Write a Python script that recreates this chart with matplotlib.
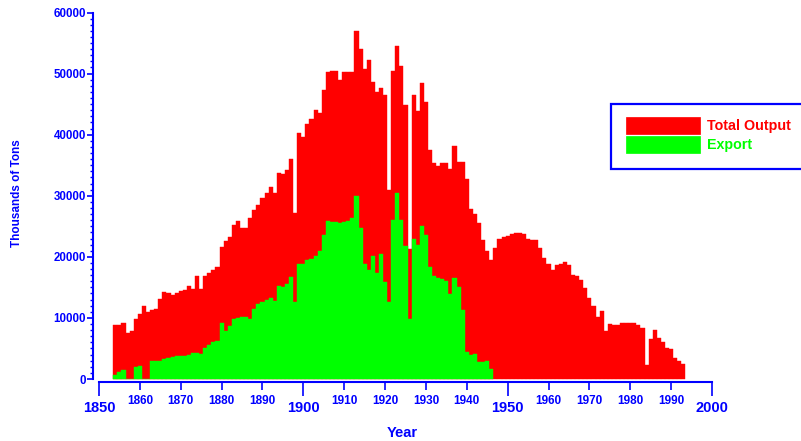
import numpy as np
import matplotlib
matplotlib.use("Agg")
import matplotlib.pyplot as plt
from matplotlib.patches import Rectangle
from matplotlib.ticker import MultipleLocator, FixedLocator, FixedFormatter

plt.rcParams["font.family"] = ["Liberation Sans", "DejaVu Sans"]
plt.rcParams["font.weight"] = "bold"

blue = "#0000ff"
red = "#ff0000"
green = "#00ff00"

# thousands of tons, one value per year
output_years = np.arange(1854, 1994)
total_output = [
    8800, 8800, 9200, 7600, 7900, 9900, 10700, 12000, 11000, 11300,
    11400, 13100, 14200, 14000, 13800, 14000, 14400, 14500, 15200, 14700,
    16800, 14700, 16800, 17400, 17800, 18300, 21600, 22600, 23200, 25200,
    25900, 24700, 24700, 26400, 27700, 28500, 29700, 30400, 31500, 30400,
    33700, 33500, 34200, 36000, 27200, 40200, 39700, 41700, 42500, 44000,
    43500, 47300, 50300, 50500, 50500, 49000, 50300, 50300, 50200, 56900,
    54000, 50700, 52200, 48700, 47000, 47700, 46500, 30900, 50500, 54500,
    51200, 44900, 21300, 46500, 43800, 48500, 45400, 37500, 35400, 34800,
    35400, 35300, 34300, 38100, 35600, 35600, 32700, 27800, 27000, 25500,
    22800, 20900, 19500, 21500, 22900, 23200, 23400, 23700, 23900, 23900,
    23800, 23000, 22800, 22700, 21400, 19800, 18900, 17800, 18700, 18900,
    19200, 18700, 17000, 16900, 16200, 14850, 13200, 11900, 10200, 11200,
    7800, 9000, 8900, 8900, 9100, 9200, 9200, 9100, 8900, 8300,
    2300, 6500, 8100, 6700, 6000, 5000, 4900, 3500, 3000, 2400,
]

export_years = np.arange(1854, 1947)
export = [
    700, 1100, 1400, 0, 0, 2000, 2100, 0, 0, 2900,
    2900, 2900, 3300, 3400, 3600, 3700, 3700, 3800, 4000, 4200,
    4300, 4100, 5000, 5500, 6000, 6300, 9100, 7900, 8600, 9800,
    10000, 10200, 10100, 9800, 11400, 12300, 12600, 12900, 13200, 12800,
    15300, 15000, 15600, 16700, 12600, 18900, 18900, 19500, 19700, 20100,
    21000, 23500, 25900, 25700, 25700, 25600, 25700, 25800, 26300, 30000,
    24800, 18900, 17800, 20200, 17300, 20500, 15800, 12600, 26000, 30400,
    26000, 21700, 9800, 23000, 21900, 25000, 23600, 18400, 16900, 16500,
    16400, 16000, 13900, 16600, 15100, 11300, 4500, 4000, 4100, 2800,
    2800, 2900, 1600,
]

series_names = ["Total Output", "Export"]
series_colors = [red, green]

major_years = [1850, 1900, 1950, 2000]
minor_years = [1860, 1870, 1880, 1890, 1910, 1920, 1930, 1940,
               1960, 1970, 1980, 1990]

W, H = 801, 441
fig = plt.figure(figsize=(W / 100, H / 100), dpi=100)
fig.patch.set_facecolor("white")
ax = fig.add_axes([93 / W, 59 / H, 619 / W, 369.5 / H])

ax.bar(output_years, total_output, width=1.0, color=red,
       edgecolor=red, linewidth=0.3)
ax.bar(export_years, export, width=1.0, color=green,
       edgecolor=green, linewidth=0.3)

ax.set_xlim(1848.53, 2000)
ax.set_ylim(-490, 60000)

for side in ["top", "right"]:
    ax.spines[side].set_visible(False)
ax.spines["left"].set_bounds(0, 60000)
ax.spines["bottom"].set_bounds(1850, 2000)
for side in ["left", "bottom"]:
    ax.spines[side].set_color(blue)
    ax.spines[side].set_linewidth(1.5)

ax.yaxis.set_major_locator(MultipleLocator(10000))
ax.yaxis.set_minor_locator(MultipleLocator(1000))
ax.tick_params(axis="y", which="major", length=4, width=1.2, color=blue,
               labelcolor=blue, labelsize=8.3, pad=1)
ax.tick_params(axis="y", which="minor", length=2.5, width=1, color=blue)

ax.xaxis.set_major_locator(FixedLocator(major_years))
ax.xaxis.set_major_formatter(FixedFormatter([str(y) for y in major_years]))
ax.xaxis.set_minor_locator(FixedLocator(minor_years))
ax.xaxis.set_minor_formatter(FixedFormatter([str(y) for y in minor_years]))
ax.tick_params(axis="x", which="major", length=10, width=1.2, color=blue,
               labelcolor=blue, labelsize=10.5, pad=4)
ax.tick_params(axis="x", which="minor", length=5.5, width=1.2, color=blue,
               labelcolor=blue, labelsize=8.5, pad=4)

ax.set_xlabel("Year", color=blue, fontsize=10.5, fontweight="bold")
ax.xaxis.set_label_coords(0.5, -0.118)
ax.set_ylabel("Thousands of Tons", color=blue, fontsize=8.5,
              fontweight="bold")
ax.yaxis.set_label_coords(-0.113, 0.51)

# legend box, running off the right edge like the original
fig.add_artist(Rectangle((611 / W, (H - 169) / H), 0.3, 65 / H,
                         transform=fig.transFigure, facecolor="white",
                         edgecolor=blue, linewidth=1.6, clip_on=False))
for i, (name, col) in enumerate(zip(series_names, series_colors)):
    top = 117 + i * 19
    fig.add_artist(Rectangle((626 / W, (H - top - 17) / H), 74 / W, 17 / H,
                             transform=fig.transFigure, facecolor=col,
                             edgecolor=col, linewidth=0.5))
    fig.text(707 / W, (H - top - 9) / H, name, color=col, fontsize=10.3,
             fontweight="bold", va="center", ha="left")

fig.savefig("out.png", dpi=100, facecolor="white")
